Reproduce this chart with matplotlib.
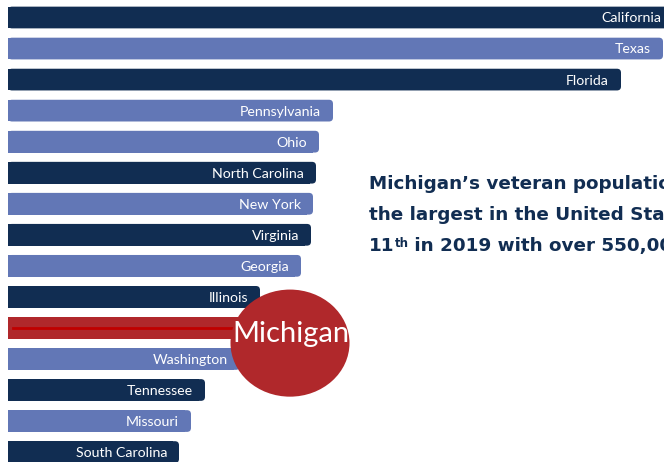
import matplotlib.pyplot as plt
from matplotlib.patches import FancyBboxPatch, Ellipse

plt.rcParams['font.family'] = ['Lato', 'DejaVu Sans']

# bar lengths (relative units, pixels from the left edge)
states = ["California", "Texas", "Florida", "Pennsylvania", "Ohio",
          "North Carolina", "New York", "Virginia", "Georgia", "Illinois",
          "Michigan", "Washington", "Tennessee", "Missouri", "South Carolina"]
lengths = [665, 655, 613, 325, 311, 308, 305, 303, 293, 252, 242, 232, 197, 183, 171]

navy = "#112d52"
blue = "#6277b6"
red = "#b0282b"
bar_colors = [navy, blue, navy, blue, blue, navy, blue, navy, blue, navy,
              red, blue, navy, blue, navy]

text_lines = ["Michigan\u2019s veteran population was one of",
              "the largest in the United States, ranking",
              "in 2019 with over 550,000 veterans."]

fig = plt.figure(figsize=(6.64, 4.62), dpi=100)
ax = fig.add_axes([0, 0, 1, 1])
ax.set_xlim(-8, 656)
ax.set_ylim(14.32, -0.564)
ax.axis("off")

h = 0.70
for i, (name, val) in enumerate(zip(states, lengths)):
    c = bar_colors[i]
    # square left side, rounded right end
    ax.barh(i, val - 6, height=h, left=0, color=c, zorder=2)
    p = FancyBboxPatch((0, i - h / 2), val, h,
                       boxstyle="round,pad=0,rounding_size=4",
                       mutation_aspect=1 / 31.0, fc=c, ec="none", zorder=2)
    ax.add_patch(p)
    if name != "Michigan":
        ax.text(val - 12, i + 0.03, name, color="white", fontsize=10.2,
                ha="right", va="center", zorder=3)

mi = states.index("Michigan")
ax.plot([5, 230], [mi, mi], color="#c00000", lw=2, zorder=3)
ax.add_patch(Ellipse((282, mi + 0.49), 119, 3.45, fc=red, ec="none", zorder=4))
ax.text(283, mi + 0.2, "Michigan", color="white", fontsize=21,
        ha="center", va="center", zorder=5)

# annotation text on the right
tx = 369 / 664
ty = [1 - 184 / 462, 1 - 215 / 462, 1 - 246 / 462]
kw = dict(color=navy, fontsize=13.2, fontweight="bold",
          family=["DejaVu Sans"])
fig.text(tx, ty[0], text_lines[0], va="center", ha="left", **kw)
fig.text(tx, ty[1], text_lines[1], va="center", ha="left", **kw)
t11 = fig.text(tx, ty[2], "11", va="center", ha="left", **kw)
tth = ax.annotate("th", xy=(1, 0.98), xycoords=t11, va="top", ha="left",
                  color=navy, fontsize=8.5, fontweight="bold",
                  family=["DejaVu Sans"])
ax.annotate(" " + text_lines[2], xy=(1, 0), xycoords=(tth, t11),
            va="bottom", ha="left", **kw)

fig.savefig("out.png", dpi=100)
